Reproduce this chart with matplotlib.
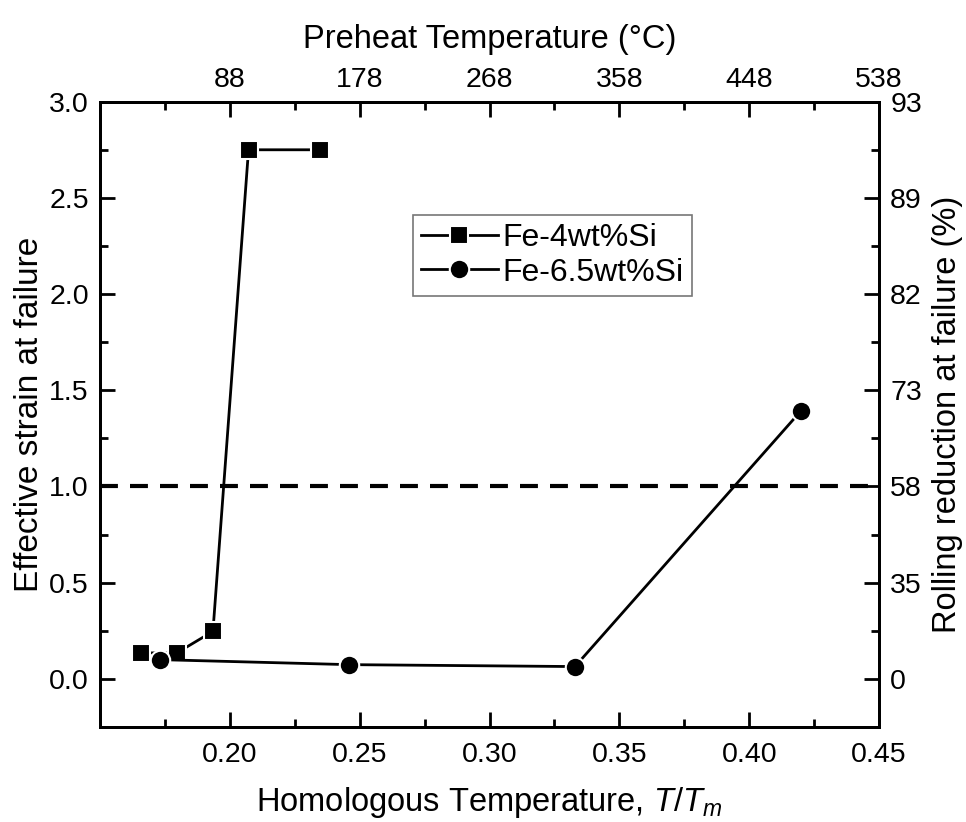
import matplotlib
matplotlib.use("Agg")
import matplotlib.pyplot as plt
import numpy as np

plt.rcParams['font.family'] = ['Liberation Sans', 'DejaVu Sans']
plt.rcParams['mathtext.fontset'] = 'custom'
plt.rcParams['mathtext.rm'] = 'Liberation Sans'
plt.rcParams['mathtext.it'] = 'Liberation Sans:italic'

# data
fe4_x = [0.1657, 0.1796, 0.1935, 0.2072, 0.2349]
fe4_y = [0.135, 0.135, 0.247, 2.75, 2.75]
fe65_x = [0.1731, 0.2458, 0.3329, 0.4200]
fe65_y = [0.100, 0.074, 0.064, 1.394]
limit_strain = 1.0

# secondary axes labels
strain_ticks = [0.0, 0.5, 1.0, 1.5, 2.0, 2.5, 3.0]
reduction_labels = ['0', '35', '58', '73', '82', '89', '93']
tt_ticks = [0.20, 0.25, 0.30, 0.35, 0.40, 0.45]
preheat_labels = ['88', '178', '268', '358', '448', '538']

fig = plt.figure(figsize=(9.66, 8.22), dpi=100)
ax = fig.add_axes([0.1035, 0.1156, 0.8065, 0.7607])

ax.plot(fe4_x, fe4_y, color='black', lw=2, marker='s', ms=13,
        mec='white', mew=1.5, label='Fe-4wt%Si', zorder=3)
ax.plot(fe65_x, fe65_y, color='black', lw=2, marker='o', ms=14,
        mec='white', mew=1.5, label='Fe-6.5wt%Si', zorder=3)
ax.axhline(limit_strain, color='black', lw=3, dashes=(4.3, 2.9), zorder=2)

ax.set_xlim(0.15, 0.45)
ax.set_ylim(-0.25, 3.0)
ax.set_xticks(tt_ticks)
ax.set_xticks(np.arange(0.175, 0.45, 0.05), minor=True)
ax.set_yticks(strain_ticks)
ax.set_yticks(np.arange(-0.25, 3.0, 0.5), minor=True)
ax.xaxis.set_major_formatter(matplotlib.ticker.FormatStrFormatter('%.2f'))
ax.yaxis.set_major_formatter(matplotlib.ticker.FormatStrFormatter('%.1f'))

ax.set_xlabel('Homologous Temperature, $T/T_m$', fontsize=23.5, labelpad=12)
ax.set_ylabel('Effective strain at failure', fontsize=24, labelpad=3)

# right axis: rolling reduction
axr = ax.twinx()
axr.set_ylim(ax.get_ylim())
axr.set_yticks(strain_ticks)
axr.set_yticklabels(reduction_labels)
axr.set_yticks(np.arange(-0.25, 3.0, 0.5), minor=True)
axr.set_ylabel('Rolling reduction at failure (%)', fontsize=23.5, labelpad=7)

# top axis: preheat temperature
axt = ax.twiny()
axt.set_xlim(ax.get_xlim())
axt.set_xticks(tt_ticks)
axt.set_xticklabels(preheat_labels)
axt.set_xticks(np.arange(0.175, 0.45, 0.05), minor=True)
axt.set_xlabel('Preheat Temperature (\u00b0C)', fontsize=23.5, labelpad=14)

for a in (ax, axr, axt):
    for s in a.spines.values():
        s.set_linewidth(2)
    a.tick_params(which='major', direction='in', length=11, width=2, labelsize=20.5, pad=8)
    a.tick_params(which='minor', direction='in', length=6, width=2)
ax.tick_params(top=False, right=False)
ax.tick_params(which='minor', top=False, right=False)
ax.tick_params(axis='x', pad=11)
axt.tick_params(axis='x', pad=6)

leg = ax.legend(loc='upper left', bbox_to_anchor=(0.402, 0.819), fontsize=23,
                frameon=True, fancybox=False, handlelength=2.4,
                handletextpad=0.15, borderpad=0.25, labelspacing=0.15,
                borderaxespad=0)
leg.get_frame().set_edgecolor('#555555')
leg.get_frame().set_linewidth(1.2)

fig.savefig('out.png', dpi=100)
